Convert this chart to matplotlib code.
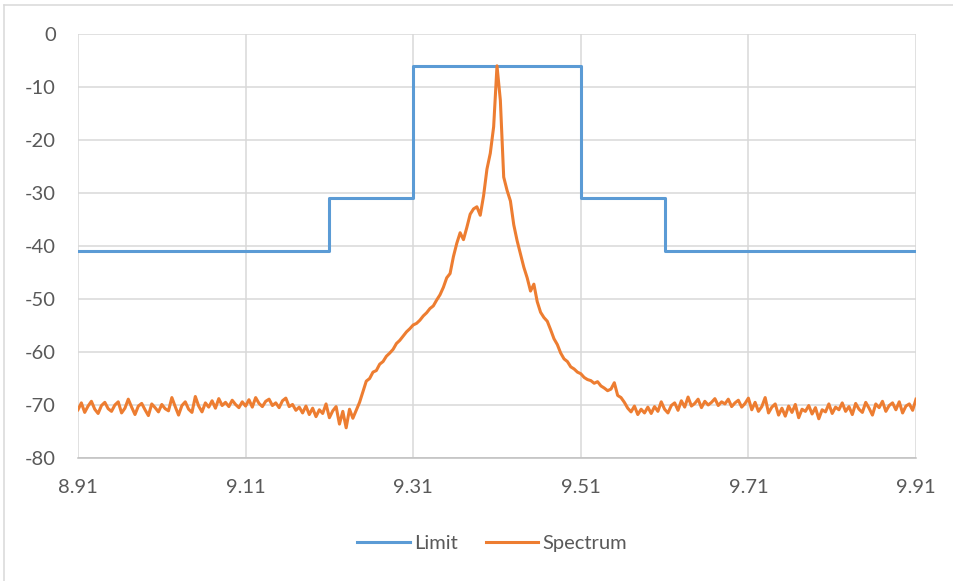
import numpy as np
import matplotlib.pyplot as plt
from matplotlib.lines import Line2D

# Limit mask (step edges, GHz) and level (dB)
limit_freq = [8.91, 9.21, 9.31, 9.51, 9.61, 9.91]
limit_level = [-41, -31, -6, -31, -41, -41]

# Spectrum trace, sampled every 0.004 from 8.91 to 9.91
spec_start = 8.91
spec_step = 0.004
spectrum = [
    # noise floor, left side
    -70.9, -69.6, -71.4, -70.2, -69.3, -70.8, -71.6, -70.1, -69.5, -70.7,
    -71.2, -70.0, -69.4, -71.5, -70.6, -68.9, -70.4, -71.8, -70.2, -69.7,
    -70.9, -72.0, -69.8, -70.5, -71.3, -69.9, -70.7, -71.1, -68.6, -70.3,
    -71.9, -70.1, -69.4, -70.8, -71.4, -68.4, -70.2, -71.3, -69.6, -70.4,
    -69.2, -70.6, -68.8, -70.1, -69.5, -70.3, -69.1, -69.9, -70.5, -69.4,
    -70.2, -69.0, -70.4, -68.6, -69.7, -70.3, -69.3, -68.9, -70.1, -69.6,
    -70.5, -69.2, -68.7, -70.3, -69.9, -71.0, -70.4, -71.5, -70.2, -71.8,
    -70.6, -72.2, -70.9, -71.6, -69.8, -72.4, -71.1, -70.3, -73.6, -71.2,
    -74.3, -70.8, -72.5,
    # rising skirt
    -71.0, -69.5, -67.5, -65.5, -65.0, -63.8, -63.5, -62.3, -61.8, -60.8,
    -60.2, -59.5, -58.4, -57.8, -57.0, -56.2, -55.6, -54.9, -54.6, -54.0,
    -53.2, -52.6, -51.8, -51.3, -50.2, -49.2, -47.8, -46.0, -45.2, -42.0,
    -39.5, -37.5, -38.8, -36.5, -34.0, -33.0, -32.6, -34.2, -30.5, -25.5,
    -22.5, -17.5,
    # carrier
    -6.0,
    # falling skirt
    -12.5, -27.0, -29.5, -31.5, -36.0, -39.0, -41.5, -44.0, -46.0, -48.5,
    -47.2, -50.5, -52.5, -53.5, -54.2, -55.8, -57.5, -58.6, -60.2, -61.3,
    -61.8, -62.8, -63.2, -63.8, -64.1, -64.8, -65.2, -65.4, -65.9, -65.6,
    -66.4, -66.8, -67.3, -67.0, -65.8, -68.2, -68.6, -69.5, -70.6, -71.3,
    -70.2, -71.8, -70.8, -71.5, -70.4,
    # noise floor, right side
    -71.6, -70.3, -71.2, -69.4, -70.8, -71.5, -70.1, -69.6, -71.0,
    -69.2, -70.4, -68.5, -70.2, -69.7, -68.9, -70.5, -69.3, -70.0, -69.5,
    -68.8, -70.1, -69.4, -69.8, -68.9, -70.3, -69.6, -69.1, -70.4, -69.7,
    -68.7, -70.9, -69.5, -71.2, -70.3, -68.6, -71.5, -70.4, -69.8, -71.9,
    -70.6, -72.1, -70.2, -71.4, -69.9, -72.4, -70.8, -71.2, -70.1, -71.7,
    -70.5, -72.6, -70.9, -71.3, -69.8, -71.6, -70.4, -70.9, -69.6, -71.2,
    -70.3, -71.8, -69.7, -70.8, -71.4, -69.5, -70.6, -71.9, -69.8, -70.5,
    -69.3, -71.2, -70.1, -69.6, -70.9, -69.4, -71.5, -70.2, -69.8, -71.0, -68.9,
]
spec_freq = spec_start + spec_step * np.arange(len(spectrum))

x_ticks = [8.91, 9.11, 9.31, 9.51, 9.71, 9.91]
y_ticks = [0, -10, -20, -30, -40, -50, -60, -70, -80]

plt.rcParams['font.family'] = ['Lato', 'DejaVu Sans']
plt.rcParams['axes.unicode_minus'] = False

fig = plt.figure(figsize=(9.54, 5.81), dpi=100)
ax = fig.add_axes([78 / 954, 1 - 458 / 581, (916 - 78) / 954, (458 - 34) / 581])

ax.step(limit_freq, limit_level, where='post', color='#5B9BD5', lw=2.2,
        label='Limit', zorder=3)
ax.plot(spec_freq, spectrum, color='#ED7D31', lw=2.2, label='Spectrum', zorder=4)

ax.set_xlim(8.91, 9.91)
ax.set_ylim(-80, 0)
ax.set_xticks(x_ticks)
ax.set_xticklabels([f"{t:.2f}" for t in x_ticks])
ax.set_yticks(y_ticks)
ax.grid(True, color='#D9D9D9', lw=1.1)
ax.set_axisbelow(True)
for side in ['top', 'right', 'left']:
    ax.spines[side].set_visible(False)
ax.spines['bottom'].set_color('#BFBFBF')
ax.spines['bottom'].set_linewidth(1.1)
ax.tick_params(length=0, labelsize=14.5, colors='#595959')
ax.tick_params(axis='y', pad=16)
ax.tick_params(axis='x', pad=15)

handles = [Line2D([], [], color='#5B9BD5', lw=2.2),
           Line2D([], [], color='#ED7D31', lw=2.2)]
fig.legend(handles, ['Limit', 'Spectrum'], loc='center', bbox_to_anchor=(492 / 954, 1 - 543 / 581),
           ncol=2, frameon=False, fontsize=14.5, labelcolor='#595959',
           handlelength=2.6, columnspacing=1.4, handletextpad=0.2)

# chart-area border (only top and left visible in the crop)
fig.add_artist(Line2D([4 / 954, 1], [1 - 5 / 581, 1 - 5 / 581], color='#D9D9D9', lw=1.1))
fig.add_artist(Line2D([4 / 954, 4 / 954], [0, 1 - 5 / 581], color='#D9D9D9', lw=1.1))

fig.savefig('out.png', dpi=100)
